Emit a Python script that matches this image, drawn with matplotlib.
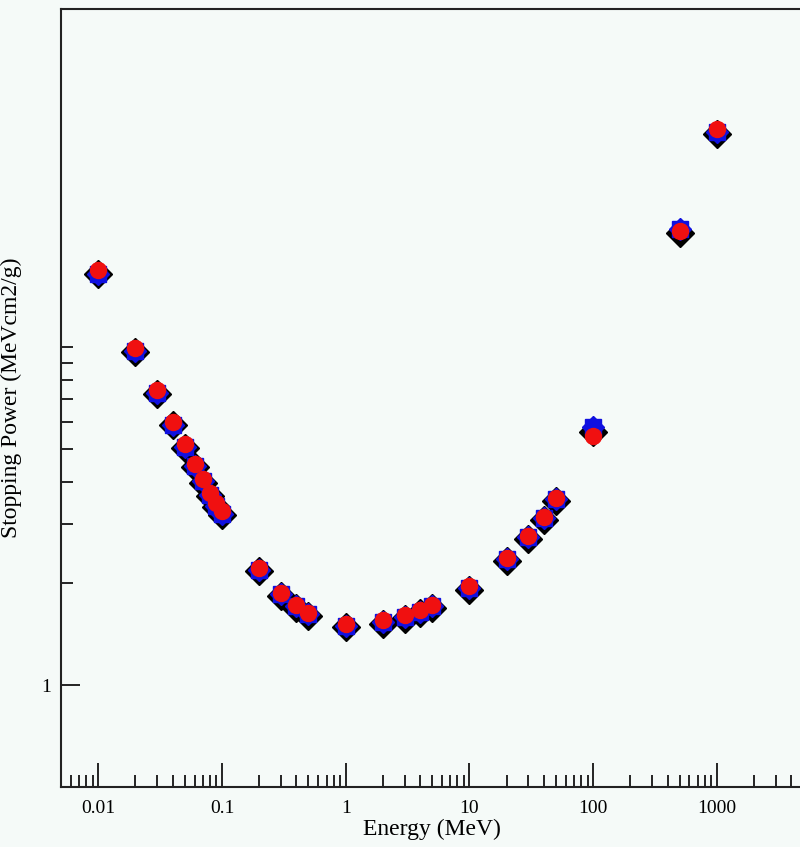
import numpy as np
import matplotlib
matplotlib.use("Agg")
import matplotlib.pyplot as plt
from matplotlib.ticker import FixedLocator, FixedFormatter, NullFormatter

energy = [0.01, 0.02, 0.03, 0.04, 0.05, 0.06, 0.07, 0.08, 0.09, 0.1,
          0.2, 0.3, 0.4, 0.5, 1, 2, 3, 4, 5, 10,
          20, 30, 40, 50, 100, 500, 1000]

# red circles
sp_red = [16.9, 9.95, 7.45, 6.0, 5.16, 4.51, 4.06, 3.70, 3.45, 3.27,
          2.22, 1.88, 1.73, 1.64, 1.52, 1.56, 1.61, 1.67, 1.73, 1.96,
          2.38, 2.76, 3.14, 3.57, 5.45, 22.0, 44.3]
# blue stars
sp_blue = [16.5, 9.75, 7.30, 5.90, 5.08, 4.45, 4.01, 3.66, 3.40, 3.22,
           2.19, 1.86, 1.71, 1.62, 1.50, 1.54, 1.59, 1.65, 1.71, 1.94,
           2.36, 2.74, 3.12, 3.55, 5.80, 22.4, 43.3]
# black diamonds
sp_black = [16.5, 9.7, 7.28, 5.87, 5.04, 4.41, 3.97, 3.62, 3.37, 3.19,
            2.17, 1.84, 1.69, 1.60, 1.49, 1.52, 1.57, 1.63, 1.69, 1.91,
            2.33, 2.71, 3.08, 3.50, 5.62, 21.8, 42.6]

bg = "#f5faf8"
plt.rcParams["font.family"] = ["Liberation Serif", "DejaVu Serif"]

fig = plt.figure(figsize=(8, 8.47), dpi=100, facecolor=bg)
ax = fig.add_axes([61 / 800, 60 / 847, 742.4 / 800, 778 / 847], facecolor=bg)

ax.plot(energy, sp_black, "D", color="black", ms=14.5, mec="black", ls="none")
ax.plot(energy, sp_blue, "s", color="#1010e0", ms=11, mec="#1010e0", ls="none")
ax.plot(energy, sp_blue, "D", color="#1010e0", ms=11, mec="#1010e0", ls="none")
ax.plot(energy, sp_red, "o", color="#f01010", ms=11.5, mec="#f01010", ls="none")

ax.set_xscale("log")
ax.set_yscale("log")
ax.set_xlim(0.005, 5000)
ax.set_ylim(0.5, 100)

for s in ax.spines.values():
    s.set_linewidth(1.5)
    s.set_color("#222222")

xmaj = [0.01, 0.1, 1, 10, 100, 1000]
ax.xaxis.set_major_locator(FixedLocator(xmaj))
ax.xaxis.set_major_formatter(FixedFormatter(["0.01", "0.1", "1", "10", "100", "1000"]))
xmin_t = [m * 10.0 ** k for k in range(-3, 4) for m in range(2, 10)]
ax.xaxis.set_minor_locator(FixedLocator([t for t in xmin_t if 0.005 < t < 5000]))
ax.xaxis.set_minor_formatter(NullFormatter())

ax.yaxis.set_major_locator(FixedLocator([1]))
ax.yaxis.set_major_formatter(FixedFormatter(["1"]))
ax.yaxis.set_minor_locator(FixedLocator([2, 3, 4, 5, 6, 7, 8, 9, 10]))
ax.yaxis.set_minor_formatter(NullFormatter())

ax.tick_params(axis="x", which="major", direction="in", length=17, width=1.2,
               labelsize=14, pad=9, top=False)
ax.tick_params(axis="x", which="minor", direction="in", length=8.5, width=1.2, top=False)
ax.tick_params(axis="y", which="major", direction="in", length=14, width=1.2,
               labelsize=14, pad=7, right=False)
ax.tick_params(axis="y", which="minor", direction="in", length=8.5, width=1.2, right=False)

ax.set_xlabel("Energy (MeV)", fontsize=17, labelpad=2)
ax.set_ylabel("Stopping Power (MeVcm2/g)", fontsize=17, labelpad=14)

fig.savefig("out.png", dpi=100, facecolor=bg)
